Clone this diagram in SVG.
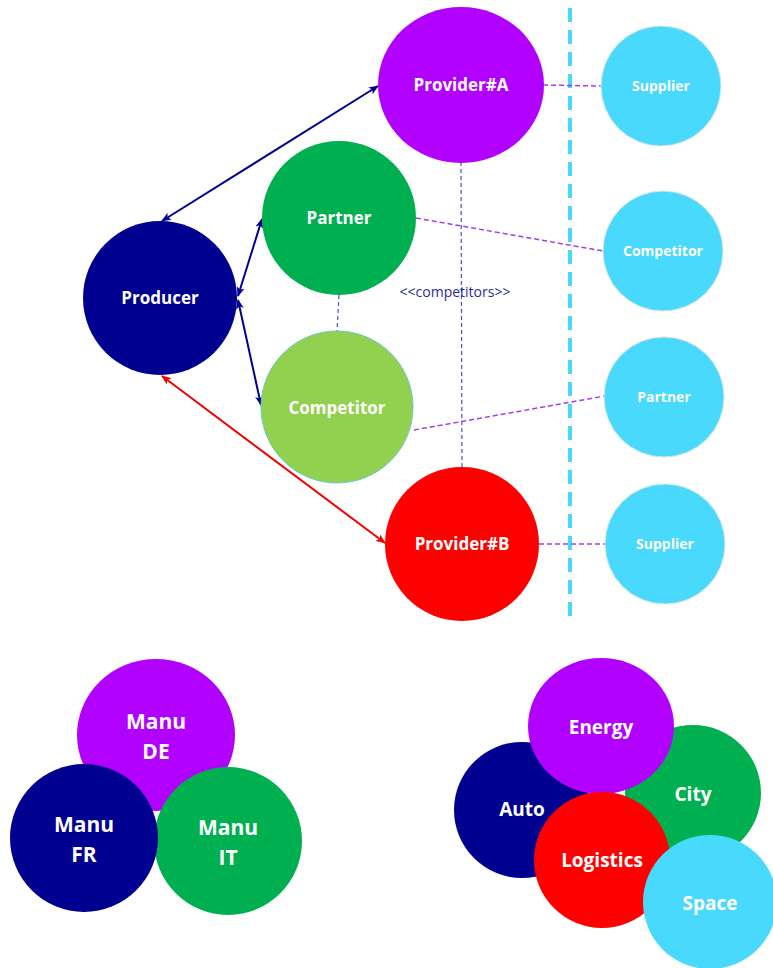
<svg xmlns="http://www.w3.org/2000/svg" width="773" height="968" viewBox="0 0 773 968">
<defs>
<style>
.lbl{font-family:"Open Sans","Liberation Sans",sans-serif;font-weight:bold;fill:#fff;text-anchor:middle}
.m{font-size:17px}
.s{font-size:14px}
.b{font-size:21px}
.r{font-size:19px}
.pd{stroke:#A63BF0;stroke-width:1.5;stroke-dasharray:5 3;fill:none}
.bd{stroke:#4B4BD8;stroke-width:1.2;stroke-dasharray:4 3;fill:none}
.sup{fill:#48D9FC;stroke:#D8E4E8;stroke-width:1}
</style>
<marker id="an" viewBox="0 0 10 8" markerWidth="10" markerHeight="8" refX="9" refY="4" orient="auto-start-reverse" markerUnits="userSpaceOnUse">
<path d="M0,0 L10,4 L0,8 L2.5,4 z" fill="#00008E"/>
</marker>
<marker id="ar" viewBox="0 0 10 8" markerWidth="10" markerHeight="8" refX="9" refY="4" orient="auto-start-reverse" markerUnits="userSpaceOnUse">
<path d="M0,0 L10,4 L0,8 L2.5,4 z" fill="#F00000"/>
</marker>
</defs>
<rect width="773" height="968" fill="#fff"/>

<g id="connectors">
<line x1="570" y1="8" x2="570" y2="622" stroke="#48D9FC" stroke-width="4" stroke-dasharray="14 8"/>
<line class="bd" x1="461" y1="162" x2="462" y2="467"/>
<line class="bd" x1="339" y1="295" x2="337" y2="331"/>
<line class="pd" x1="543" y1="85" x2="602" y2="86"/>
<line class="pd" x1="416" y1="218" x2="603" y2="251"/>
<line class="pd" x1="414" y1="430" x2="605" y2="396"/>
<line class="pd" x1="539" y1="544" x2="605" y2="544"/>
<line x1="162" y1="221" x2="378" y2="86" stroke="#00008E" stroke-width="2" marker-start="url(#an)" marker-end="url(#an)"/>
<line x1="238" y1="296" x2="262" y2="219" stroke="#00008E" stroke-width="2" marker-start="url(#an)" marker-end="url(#an)"/>
<line x1="238" y1="300" x2="261" y2="405" stroke="#00008E" stroke-width="2" marker-start="url(#an)" marker-end="url(#an)"/>
<line x1="162" y1="376" x2="385" y2="543" stroke="#F00000" stroke-width="2" marker-start="url(#ar)" marker-end="url(#ar)"/>
<text x="455" y="297" font-family="Open Sans, Liberation Sans, sans-serif" font-size="14" fill="#2A2A9A" text-anchor="middle">&lt;&lt;competitors&gt;&gt;</text>
</g>

<g id="providerA"><ellipse cx="461" cy="85" rx="83" ry="78" fill="#B200FE"/><text class="lbl m" x="461" y="91">Provider#A</text></g>
<g id="partner"><circle cx="339" cy="218" r="77" fill="#00B050"/><text class="lbl m" x="339" y="224">Partner</text></g>
<g id="producer"><circle cx="160" cy="298" r="77" fill="#000090"/><text class="lbl m" x="160" y="304">Producer</text></g>
<g id="competitor"><circle cx="337" cy="407" r="76" fill="#92D050" stroke="#6FC6C8" stroke-width="1"/><text class="lbl m" x="337" y="414">Competitor</text></g>
<g id="providerB"><circle cx="462" cy="544" r="77" fill="#FF0000"/><text class="lbl m" x="462" y="550">Provider#B</text></g>

<g id="supplier1"><circle class="sup" cx="661" cy="86" r="60"/><text class="lbl s" x="661" y="91">Supplier</text></g>
<g id="competitor2"><circle class="sup" cx="663" cy="251" r="60"/><text class="lbl s" x="663" y="256">Competitor</text></g>
<g id="partner2"><circle class="sup" cx="664" cy="397" r="60"/><text class="lbl s" x="664" y="402">Partner</text></g>
<g id="supplier2"><circle class="sup" cx="665" cy="544" r="60"/><text class="lbl s" x="665" y="549">Supplier</text></g>

<g id="manuDE"><ellipse cx="156" cy="735" rx="79" ry="76" fill="#B200FE"/><text class="lbl b" x="156" y="729">Manu</text><text class="lbl b" x="156" y="759">DE</text></g>
<g id="manuIT"><circle cx="228" cy="841" r="74" fill="#00B050"/><text class="lbl b" x="228" y="835">Manu</text><text class="lbl b" x="228" y="865">IT</text></g>
<g id="manuFR"><circle cx="84" cy="838" r="74" fill="#000090"/><text class="lbl b" x="84" y="832">Manu</text><text class="lbl b" x="84" y="862">FR</text></g>

<g id="auto"><circle cx="522" cy="810" r="68" fill="#000090"/><text class="lbl r" x="522" y="816">Auto</text></g>
<g id="city"><circle cx="693" cy="793" r="68" fill="#00B050"/><text class="lbl r" x="693" y="801">City</text></g>
<g id="energy"><ellipse cx="601" cy="726" rx="73" ry="68" fill="#B200FE"/><text class="lbl r" x="601" y="734">Energy</text></g>
<g id="logistics"><circle cx="602" cy="860" r="68" fill="#FF0000"/><text class="lbl r" x="602" y="867">Logistics</text></g>
<g id="space"><circle cx="710" cy="902" r="67" fill="#48D9FC"/><text class="lbl r" x="710" y="910">Space</text></g>
</svg>
